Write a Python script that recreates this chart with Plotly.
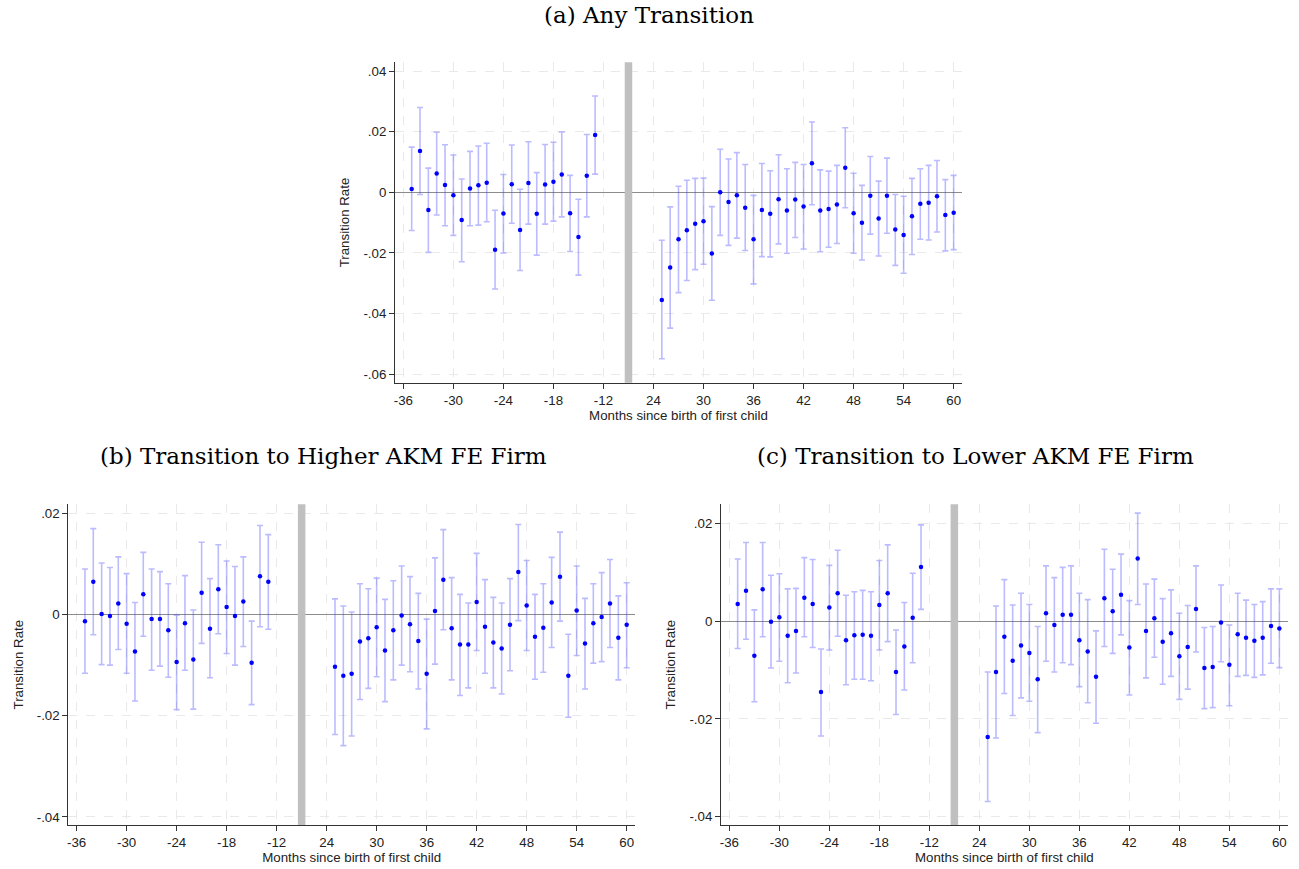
import plotly.graph_objects as go

months = list(range(-35, -12)) + list(range(25, 61))

# Panel (a): Any Transition
a_est = [0.0011, 0.0136, -0.0058, 0.0062, 0.0024, -0.0010, -0.0091, 0.0013, 0.0023, 0.0032,
         -0.0189, -0.0070, 0.0027, -0.0124, 0.0031, -0.0071, 0.0026, 0.0035, 0.0059, -0.0069,
         -0.0147, 0.0055, 0.0189,
         -0.0355, -0.0248, -0.0155, -0.0125, -0.0104, -0.0095, -0.0202, 0.0000, -0.0032, -0.0010,
         -0.0051, -0.0155, -0.0058, -0.0071, -0.0023, -0.0060, -0.0024, -0.0047, 0.0096, -0.0060,
         -0.0055, -0.0040, 0.0081, -0.0069, -0.0100, -0.0011, -0.0086, -0.0011, -0.0123, -0.0141,
         -0.0079, -0.0038, -0.0034, -0.0013, -0.0075, -0.0067]
a_lo = [-0.0126, -0.0007, -0.0198, -0.0075, -0.0110, -0.0142, -0.0229, -0.0110, -0.0108, -0.0097,
        -0.0319, -0.0200, -0.0102, -0.0258, -0.0105, -0.0207, -0.0105, -0.0095, -0.0081, -0.0195,
        -0.0273, -0.0081, 0.0060,
        -0.0549, -0.0448, -0.0331, -0.0291, -0.0255, -0.0237, -0.0356, -0.0142, -0.0175, -0.0151,
        -0.0192, -0.0302, -0.0212, -0.0213, -0.0170, -0.0201, -0.0149, -0.0187, -0.0041, -0.0196,
        -0.0181, -0.0169, -0.0051, -0.0201, -0.0223, -0.0138, -0.0210, -0.0135, -0.0241, -0.0267,
        -0.0205, -0.0155, -0.0157, -0.0131, -0.0193, -0.0189]
a_hi = [0.0149, 0.0280, 0.0080, 0.0198, 0.0157, 0.0123, 0.0044, 0.0135, 0.0153, 0.0162,
        -0.0059, 0.0059, 0.0156, 0.0010, 0.0167, 0.0065, 0.0158, 0.0165, 0.0199, 0.0056,
        -0.0023, 0.0191, 0.0318,
        -0.0158, -0.0048, 0.0020, 0.0040, 0.0046, 0.0047, -0.0047, 0.0142, 0.0110, 0.0131,
        0.0092, -0.0010, 0.0095, 0.0071, 0.0124, 0.0078, 0.0099, 0.0092, 0.0232, 0.0074,
        0.0070, 0.0089, 0.0213, 0.0063, 0.0023, 0.0118, 0.0037, 0.0113, -0.0007, -0.0013,
        0.0046, 0.0078, 0.0089, 0.0105, 0.0042, 0.0056]

# Panel (b): Transition to Higher AKM FE Firm
b_est = [-0.0013, 0.0065, 0.0001, -0.0003, 0.0022, -0.0018, -0.0073, 0.0040, -0.0009, -0.0009,
         -0.0031, -0.0094, -0.0017, -0.0089, 0.0043, -0.0028, 0.0050, 0.0015, -0.0003, 0.0026,
         -0.0095, 0.0076, 0.0065,
         -0.0103, -0.0121, -0.0117, -0.0053, -0.0047, -0.0025, -0.0071, -0.0031, -0.0002, -0.0019,
         -0.0052, -0.0117, 0.0007, 0.0069, -0.0027, -0.0059, -0.0059, 0.0025, -0.0024, -0.0055,
         -0.0067, -0.0020, 0.0084, 0.0018, -0.0044, -0.0026, 0.0024, 0.0075, -0.0121, 0.0008,
         -0.0057, -0.0017, -0.0005, 0.0022, -0.0046, -0.0020]
b_lo = [-0.0116, -0.0040, -0.0099, -0.0100, -0.0069, -0.0116, -0.0171, -0.0043, -0.0110, -0.0102,
        -0.0124, -0.0188, -0.0110, -0.0187, -0.0057, -0.0125, -0.0038, -0.0077, -0.0100, -0.0063,
        -0.0178, -0.0024, -0.0029,
        -0.0237, -0.0259, -0.0240, -0.0168, -0.0146, -0.0123, -0.0172, -0.0129, -0.0100, -0.0113,
        -0.0147, -0.0226, -0.0098, -0.0030, -0.0129, -0.0160, -0.0145, -0.0071, -0.0116, -0.0145,
        -0.0157, -0.0111, -0.0012, -0.0071, -0.0128, -0.0114, -0.0065, -0.0013, -0.0203, -0.0081,
        -0.0147, -0.0096, -0.0093, -0.0065, -0.0129, -0.0105]
b_hi = [0.0090, 0.0170, 0.0102, 0.0093, 0.0114, 0.0081, 0.0024, 0.0123, 0.0090, 0.0085,
        0.0061, -0.0001, 0.0077, 0.0009, 0.0143, 0.0071, 0.0138, 0.0106, 0.0095, 0.0114,
        -0.0013, 0.0176, 0.0158,
        0.0031, 0.0017, 0.0005, 0.0061, 0.0051, 0.0072, 0.0030, 0.0067, 0.0096, 0.0075,
        0.0042, -0.0009, 0.0112, 0.0168, 0.0073, 0.0040, 0.0023, 0.0121, 0.0069, 0.0034,
        0.0023, 0.0071, 0.0178, 0.0107, 0.0040, 0.0061, 0.0113, 0.0163, -0.0039, 0.0096,
        0.0032, 0.0061, 0.0083, 0.0109, 0.0037, 0.0063]

# Panel (c): Transition to Lower AKM FE Firm
c_est = [0.0035, 0.0062, -0.0071, 0.0065, -0.0001, 0.0008, -0.0030, -0.0020, 0.0048, 0.0035,
         -0.0145, 0.0028, 0.0057, -0.0039, -0.0029, -0.0028, -0.0030, 0.0033, 0.0057, -0.0104,
         -0.0052, 0.0007, 0.0111,
         -0.0237, -0.0104, -0.0032, -0.0081, -0.0050, -0.0065, -0.0119, 0.0016, -0.0008, 0.0013,
         0.0013, -0.0039, -0.0062, -0.0114, 0.0047, 0.0020, 0.0054, -0.0054, 0.0128, -0.0020,
         0.0006, -0.0042, -0.0025, -0.0072, -0.0053, 0.0025, -0.0096, -0.0094, -0.0003, -0.0089,
         -0.0027, -0.0034, -0.0040, -0.0034, -0.0010, -0.0015]
c_lo = [-0.0056, -0.0037, -0.0165, -0.0032, -0.0096, -0.0082, -0.0126, -0.0106, -0.0032, -0.0054,
        -0.0235, -0.0059, -0.0031, -0.0130, -0.0119, -0.0119, -0.0122, -0.0059, -0.0042, -0.0191,
        -0.0141, -0.0085, 0.0024,
        -0.0369, -0.0239, -0.0148, -0.0193, -0.0157, -0.0164, -0.0228, -0.0082, -0.0104, -0.0085,
        -0.0089, -0.0134, -0.0167, -0.0209, -0.0052, -0.0066, -0.0028, -0.0151, 0.0034, -0.0116,
        -0.0074, -0.0129, -0.0113, -0.0160, -0.0139, -0.0063, -0.0179, -0.0177, -0.0083, -0.0173,
        -0.0113, -0.0111, -0.0115, -0.0110, -0.0086, -0.0095]
c_hi = [0.0127, 0.0161, 0.0023, 0.0161, 0.0094, 0.0097, 0.0066, 0.0067, 0.0130, 0.0126,
        -0.0057, 0.0114, 0.0145, 0.0053, 0.0060, 0.0063, 0.0060, 0.0124, 0.0156, -0.0018,
        0.0038, 0.0098, 0.0197,
        -0.0104, 0.0031, 0.0085, 0.0033, 0.0057, 0.0034, -0.0011, 0.0113, 0.0089, 0.0110,
        0.0113, 0.0057, 0.0044, -0.0020, 0.0147, 0.0106, 0.0137, 0.0042, 0.0221, 0.0076,
        0.0086, 0.0046, 0.0064, 0.0016, 0.0032, 0.0113, -0.0013, -0.0011, 0.0074, -0.0008,
        0.0057, 0.0043, 0.0034, 0.0040, 0.0066, 0.0066]

tick_months = [-36, -30, -24, -18, -12, 24, 30, 36, 42, 48, 54, 60]
titles = ["(a) Any Transition", "(b) Transition to Higher AKM FE Firm",
          "(c) Transition to Lower AKM FE Firm"]
y_ticks_a = [0.04, 0.02, 0, -0.02, -0.04, -0.06]
y_ticks_bc = [0.02, 0, -0.02, -0.04]

GAP = 30  # post-birth months are shifted left to close the broken axis


def pos(m):
    return m if m < 0 else m - GAP


def fmt(v):
    if v == 0:
        return "0"
    s = f"{v:.2f}".rstrip("0")
    return s.replace("0.", ".")


fig = go.Figure()

panels = [
    dict(est=a_est, lo=a_lo, hi=a_hi, xd=[395 / 1299, 962 / 1299],
         yd=[(869 - 382.7) / 869, (869 - 62.3) / 869], yr=[-0.0628, 0.0429], yt=y_ticks_a),
    dict(est=b_est, lo=b_lo, hi=b_hi, xd=[68.3 / 1299, 635 / 1299],
         yd=[(869 - 825) / 869, (869 - 504.3) / 869], yr=[-0.0416, 0.0218], yt=y_ticks_bc),
    dict(est=c_est, lo=c_lo, hi=c_hi, xd=[721 / 1299, 1287.7 / 1299],
         yd=[(869 - 825) / 869, (869 - 504.3) / 869], yr=[-0.0417, 0.0239], yt=y_ticks_bc),
]

font_sans = "Liberation Sans, Arial, sans-serif"
grid_col = "#e9e9e9"
fs = 13.3

for i, p in enumerate(panels):
    sfx = "" if i == 0 else str(i + 1)
    xs = [pos(m) for m in months]
    fig.add_trace(go.Scatter(
        x=xs, y=p["est"], mode="markers",
        marker=dict(color="#0000ff", size=4.5),
        error_y=dict(type="data", symmetric=False,
                     array=[h - e for h, e in zip(p["hi"], p["est"])],
                     arrayminus=[e - l for e, l in zip(p["est"], p["lo"])],
                     color="rgba(60,60,255,0.35)", thickness=1.6, width=3),
        xaxis="x" + sfx, yaxis="y" + sfx, showlegend=False, hoverinfo="skip"))
    xa = dict(domain=p["xd"], range=[-37, 31], anchor="y" + sfx,
              tickvals=[pos(m) for m in tick_months], ticktext=[str(m) for m in tick_months],
              showgrid=True, gridcolor=grid_col, griddash="dash", gridwidth=1,
              showline=True, linecolor="#333333", linewidth=1, zeroline=False,
              ticks="outside", ticklen=5, tickcolor="#333333",
              tickfont=dict(family=font_sans, size=fs, color="#222222"),
              title=dict(text="Months since birth of first child", standoff=3,
                         font=dict(family=font_sans, size=fs, color="#222222")))
    ya = dict(domain=p["yd"], range=p["yr"], anchor="x" + sfx,
              tickvals=p["yt"], ticktext=[fmt(v) for v in p["yt"]],
              showgrid=True, gridcolor=grid_col, griddash="dash", gridwidth=1,
              showline=True, linecolor="#333333", linewidth=1,
              zeroline=True, zerolinecolor="#8c8c8c", zerolinewidth=1,
              ticks="outside", ticklen=5, tickcolor="#333333",
              tickfont=dict(family=font_sans, size=fs, color="#222222"),
              title=dict(text="Transition Rate", standoff=10,
                         font=dict(family=font_sans, size=fs, color="#222222")))
    fig.update_layout({"xaxis" + sfx: xa, "yaxis" + sfx: ya})
    fig.add_shape(type="rect", xref="x" + sfx, yref="y" + sfx + " domain",
                  x0=-9.45, x1=-8.55, y0=0, y1=1, fillcolor="#c0c0c0",
                  line=dict(width=0), layer="above")

title_pos = [(648.5, 15), (323.5, 456), (975.5, 456)]
for t, (cx, cy) in zip(titles, title_pos):
    fig.add_annotation(text=t, x=cx / 1299, y=1 - cy / 869, xref="paper", yref="paper",
                       showarrow=False, xanchor="center", yanchor="middle",
                       font=dict(family="DejaVu Serif", size=23, color="#000000"))

fig.update_layout(width=1299, height=869, margin=dict(l=0, r=0, t=0, b=0),
                  paper_bgcolor="white", plot_bgcolor="white")

fig.write_html("out.html")
